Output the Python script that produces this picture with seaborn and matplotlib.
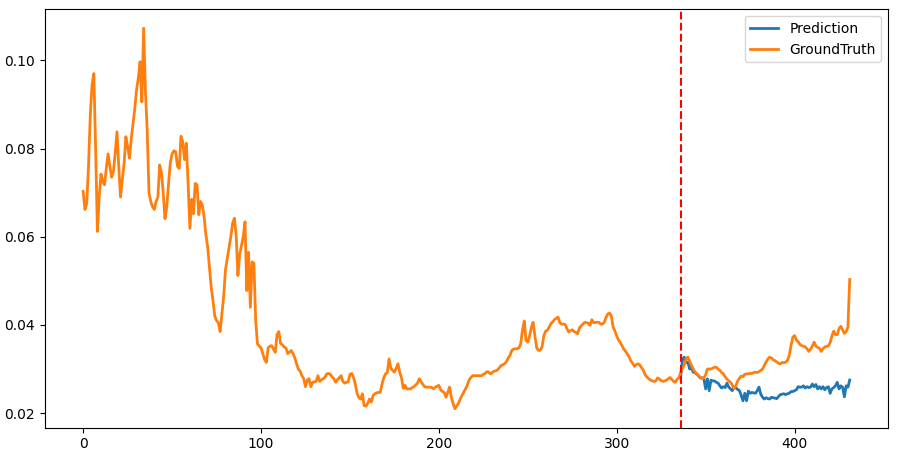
import matplotlib
matplotlib.use("Agg")
import matplotlib.pyplot as plt
import seaborn as sns
import pandas as pd

# ground truth, one value per step (0..431)
ground_truth = [
    0.0703, 0.0662, 0.0675, 0.0760, 0.0875, 0.0945, 0.0970, 0.0800, 0.0612, 0.0690,
    0.0742, 0.0725, 0.0718, 0.0755, 0.0788, 0.0760, 0.0735, 0.0748, 0.0790, 0.0838,
    0.0760, 0.0690, 0.0730, 0.0765, 0.0827, 0.0805, 0.0778, 0.0820, 0.0855, 0.0890,
    0.0933, 0.0960, 0.0997, 0.0906, 0.1073, 0.0930, 0.0842, 0.0700, 0.0680, 0.0668,
    0.0662, 0.0680, 0.0690, 0.0763, 0.0745, 0.0700, 0.0641, 0.0668, 0.0720, 0.0768,
    0.0788, 0.0795, 0.0793, 0.0760, 0.0755, 0.0828, 0.0815, 0.0775, 0.0812, 0.0720,
    0.0619, 0.0685, 0.0652, 0.0721, 0.0718, 0.0650, 0.0680, 0.0672, 0.0645, 0.0605,
    0.0577, 0.0530, 0.0485, 0.0455, 0.0420, 0.0410, 0.0405, 0.0385, 0.0425, 0.0465,
    0.0525, 0.0550, 0.0575, 0.0600, 0.0630, 0.0642, 0.0605, 0.0512, 0.0560, 0.0580,
    0.0600, 0.0634, 0.0478, 0.0565, 0.0440, 0.0543, 0.0540, 0.0410, 0.0357, 0.0352,
    0.0348, 0.0335, 0.0322, 0.0315, 0.0348, 0.0352, 0.0353, 0.0345, 0.0338, 0.0378,
    0.0385, 0.0358, 0.0355, 0.0350, 0.0348, 0.0335, 0.0338, 0.0342, 0.0335, 0.0325,
    0.0312, 0.0300, 0.0295, 0.0285, 0.0278, 0.0260, 0.0275, 0.0278, 0.0260, 0.0270,
    0.0271, 0.0272, 0.0285, 0.0272, 0.0276, 0.0278, 0.0282, 0.0289, 0.0290, 0.0288,
    0.0282, 0.0278, 0.0270, 0.0276, 0.0280, 0.0285, 0.0272, 0.0268, 0.0270, 0.0271,
    0.0288, 0.0290, 0.0281, 0.0266, 0.0245, 0.0235, 0.0232, 0.0244, 0.0217, 0.0216,
    0.0222, 0.0232, 0.0225, 0.0240, 0.0244, 0.0246, 0.0247, 0.0247, 0.0265, 0.0280,
    0.0289, 0.0292, 0.0323, 0.0302, 0.0297, 0.0293, 0.0302, 0.0312, 0.0292, 0.0280,
    0.0256, 0.0263, 0.0255, 0.0255, 0.0255, 0.0258, 0.0260, 0.0264, 0.0268, 0.0278,
    0.0272, 0.0265, 0.0260, 0.0259, 0.0259, 0.0259, 0.0258, 0.0255, 0.0259, 0.0261,
    0.0263, 0.0253, 0.0249, 0.0247, 0.0236, 0.0247, 0.0259, 0.0236, 0.0222, 0.0210,
    0.0216, 0.0222, 0.0232, 0.0240, 0.0248, 0.0255, 0.0264, 0.0275, 0.0281, 0.0285,
    0.0285, 0.0285, 0.0285, 0.0285, 0.0285, 0.0288, 0.0290, 0.0294, 0.0293, 0.0289,
    0.0292, 0.0295, 0.0296, 0.0298, 0.0303, 0.0308, 0.0310, 0.0312, 0.0317, 0.0325,
    0.0331, 0.0342, 0.0345, 0.0346, 0.0346, 0.0348, 0.0357, 0.0388, 0.0409, 0.0365,
    0.0361, 0.0375, 0.0395, 0.0406, 0.0375, 0.0348, 0.0342, 0.0343, 0.0350, 0.0375,
    0.0386, 0.0388, 0.0395, 0.0403, 0.0407, 0.0412, 0.0415, 0.0418, 0.0405, 0.0402,
    0.0402, 0.0401, 0.0392, 0.0384, 0.0387, 0.0389, 0.0385, 0.0383, 0.0380, 0.0393,
    0.0398, 0.0402, 0.0406, 0.0405, 0.0404, 0.0399, 0.0412, 0.0405, 0.0406, 0.0406,
    0.0406, 0.0402, 0.0402, 0.0406, 0.0417, 0.0425, 0.0427, 0.0420, 0.0395, 0.0386,
    0.0375, 0.0366, 0.0360, 0.0353, 0.0345, 0.0340, 0.0334, 0.0327, 0.0318, 0.0313,
    0.0306, 0.0310, 0.0312, 0.0309, 0.0303, 0.0297, 0.0287, 0.0282, 0.0278, 0.0275,
    0.0273, 0.0272, 0.0273, 0.0280, 0.0277, 0.0274, 0.0272, 0.0273, 0.0275, 0.0278,
    0.0281, 0.0276, 0.0272, 0.0270, 0.0277, 0.0280, 0.0293, 0.0302, 0.0310, 0.0323,
    0.0327, 0.0318, 0.0308, 0.0300, 0.0294, 0.0289, 0.0285, 0.0281, 0.0279, 0.0280,
    0.0287, 0.0300, 0.0300, 0.0300, 0.0302, 0.0304, 0.0304, 0.0300, 0.0297, 0.0292,
    0.0289, 0.0282, 0.0277, 0.0273, 0.0270, 0.0264, 0.0255, 0.0262, 0.0273, 0.0279,
    0.0284, 0.0283, 0.0288, 0.0289, 0.0289, 0.0290, 0.0290, 0.0292, 0.0293, 0.0292,
    0.0294, 0.0297, 0.0300, 0.0308, 0.0316, 0.0323, 0.0327, 0.0325, 0.0321, 0.0319,
    0.0316, 0.0313, 0.0312, 0.0315, 0.0314, 0.0316, 0.0319, 0.0331, 0.0353, 0.0372,
    0.0376, 0.0366, 0.0362, 0.0356, 0.0353, 0.0352, 0.0350, 0.0346, 0.0340, 0.0345,
    0.0352, 0.0361, 0.0352, 0.0349, 0.0347, 0.0340, 0.0346, 0.0350, 0.0352, 0.0352,
    0.0360, 0.0375, 0.0386, 0.0378, 0.0378, 0.0392, 0.0397, 0.0389, 0.0381, 0.0385,
    0.0395, 0.0503,
]

# prediction starts at the split point
split_at = 336
prediction = [
    0.0283, 0.0323, 0.0327, 0.0314, 0.0316, 0.0300, 0.0304, 0.0293, 0.0292, 0.0288,
    0.0285, 0.0280, 0.0280, 0.0278, 0.0255, 0.0278, 0.0251, 0.0275, 0.0273, 0.0273,
    0.0270, 0.0268, 0.0262, 0.0257, 0.0260, 0.0258, 0.0268, 0.0259, 0.0255, 0.0251,
    0.0259, 0.0257, 0.0254, 0.0251, 0.0240, 0.0228, 0.0245, 0.0228, 0.0250, 0.0245,
    0.0247, 0.0246, 0.0245, 0.0251, 0.0259, 0.0243, 0.0236, 0.0232, 0.0235, 0.0233,
    0.0232, 0.0236, 0.0235, 0.0234, 0.0233, 0.0238, 0.0242, 0.0243, 0.0244, 0.0242,
    0.0244, 0.0245, 0.0249, 0.0249, 0.0251, 0.0253, 0.0260, 0.0259, 0.0259, 0.0262,
    0.0257, 0.0260, 0.0258, 0.0259, 0.0266, 0.0260, 0.0265, 0.0255, 0.0260, 0.0255,
    0.0260, 0.0253, 0.0258, 0.0260, 0.0245, 0.0255, 0.0258, 0.0262, 0.0270, 0.0255,
    0.0262, 0.0259, 0.0237, 0.0262, 0.0259, 0.0275,
]

gt_df = pd.DataFrame({'step': range(len(ground_truth)), 'value': ground_truth})
pred_df = pd.DataFrame({'step': range(split_at, split_at + len(prediction)), 'value': prediction})

fig, ax = plt.subplots(figsize=(8.97, 4.58), dpi=100)
sns.lineplot(x='step', y='value', data=pred_df, color='C0', lw=2, label='Prediction', ax=ax)
sns.lineplot(x='step', y='value', data=gt_df, color='C1', lw=2, label='GroundTruth', ax=ax)
ax.axvline(split_at, color='red', linestyle='--', lw=1.5)

ax.set_xlabel('')
ax.set_ylabel('')
ax.legend(loc='upper right')
fig.subplots_adjust(left=0.050, right=0.990, top=0.980, bottom=0.066)
fig.savefig('out.png', dpi=100)
